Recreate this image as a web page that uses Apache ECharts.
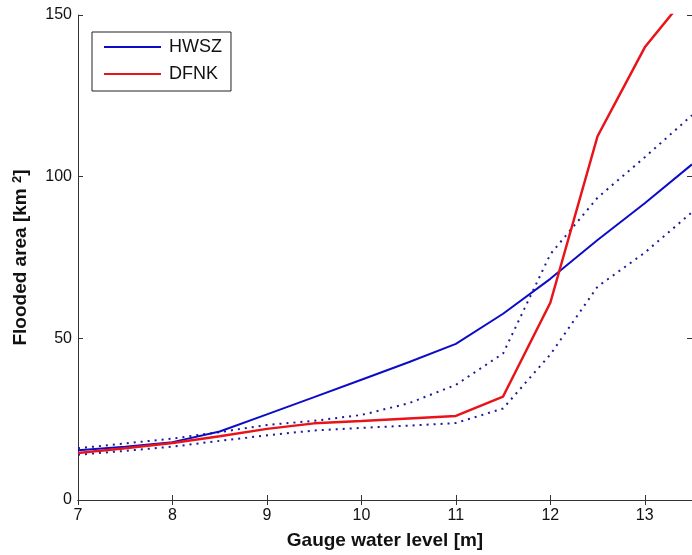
<!DOCTYPE html>
<html>
<head>
<meta charset="utf-8">
<script src="https://cdn.jsdelivr.net/npm/echarts@6/dist/echarts.min.js"></script>
<style>html,body{margin:0;padding:0;background:#fff}#c{width:692px;height:555px}</style>
</head>
<body>
<div id="c"></div>
<script>
const xLevels = [7, 7.5, 8, 8.5, 9, 9.5, 10, 10.5, 11, 11.5, 12, 12.5, 13, 13.5];
const hwsz      = [15.4, 16.5, 17.9, 21.2, 26.5, 31.8, 37.2, 42.6, 48.3, 57.6, 68.4, 80.4, 91.8, 103.8];
const hwszUpper = [16, 17.5, 19, 21, 23.2, 24.5, 26.3, 29.9, 35.6, 45.3, 76, 93.5, 106, 119];
const hwszLower = [14, 15.2, 16.5, 18.3, 20, 21.5, 22.3, 23, 23.8, 28.3, 45, 66, 76.5, 89];
const dfnk      = [14.5, 16, 17.6, 19.7, 22, 23.7, 24.4, 25.2, 26, 32, 61, 112.5, 140, 158];
const xTicks = [7, 8, 9, 10, 11, 12, 13];
const yTicks = [0, 50, 100, 150];

const pairs = (xs, ys) => xs.map((x, i) => [x, ys[i]]);
const FONT = 'Liberation Sans, Arial, sans-serif';

const chart = echarts.init(document.getElementById('c'), null, {renderer: 'canvas'});
const axisLine = {show: true, lineStyle: {color: '#333', width: 1}};
const tickIn = {show: true, inside: true, length: 5, lineStyle: {color: '#333'}};
chart.setOption({
  animation: false,
  backgroundColor: '#fff',
  grid: {left: 78, top: 15, right: -5, bottom: 53, containLabel: false},
  legend: {
    data: ['HWSZ', 'DFNK'],
    orient: 'vertical',
    left: 92, top: 32,
    padding: [6, 9, 8, 11],
    itemGap: 9,
    itemWidth: 57, itemHeight: 14,
    borderColor: '#222', borderWidth: 1,
    backgroundColor: '#fff',
    itemStyle: {opacity: 0},
    textStyle: {fontFamily: FONT, fontSize: 18, color: '#111', padding: [0, 0, 0, 3]}
  },
  xAxis: [{
    type: 'value', min: 7, max: 13.5, interval: 1,
    axisLine: axisLine, axisTick: tickIn, splitLine: {show: false},
    axisLabel: {
      fontFamily: FONT, fontSize: 16, color: '#111', margin: 8,
      showMaxLabel: false,
      formatter: v => xTicks.includes(v) ? String(v) : ''
    },
    name: 'Gauge water level [m]', nameLocation: 'middle', nameGap: 31,
    nameTextStyle: {fontFamily: FONT, fontSize: 19, fontWeight: 'bold', color: '#111'}
  }, {
    type: 'value', min: 7, max: 13.5, interval: 1, position: 'top',
    axisLine: axisLine, axisTick: tickIn, axisLabel: {show: false}, splitLine: {show: false}
  }],
  yAxis: [{
    type: 'value', min: 0, max: 150, interval: 50,
    axisLine: axisLine, axisTick: tickIn, splitLine: {show: false},
    axisLabel: {fontFamily: FONT, fontSize: 16, color: '#111', margin: 6,
      formatter: v => yTicks.includes(v) ? String(v) : ''},
    name: '{a|Flooded area [km }{s|2}{a|]}', nameLocation: 'middle', nameGap: 47,
    nameTextStyle: {
      fontFamily: FONT, fontSize: 19, fontWeight: 'bold', color: '#111',
      rich: {
        a: {fontFamily: FONT, fontSize: 19, fontWeight: 'bold', color: '#111'},
        s: {fontFamily: FONT, fontSize: 13, fontWeight: 'bold', color: '#111', verticalAlign: 'top', padding: [0, 0, 7, 0]}
      }
    }
  }, {
    type: 'value', min: 0, max: 150, interval: 50, position: 'right',
    axisLine: axisLine, axisTick: tickIn, axisLabel: {show: false}, splitLine: {show: false}
  }],
  series: [
    {name: 'HWSZ upper', type: 'line', data: pairs(xLevels, hwszUpper), symbol: 'none', clip: true,
     lineStyle: {color: '#1a1a9a', width: 2, type: [2, 5]}, z: 2},
    {name: 'HWSZ lower', type: 'line', data: pairs(xLevels, hwszLower), symbol: 'none', clip: true,
     lineStyle: {color: '#1a1a9a', width: 2, type: [2, 5]}, z: 2},
    {name: 'HWSZ', type: 'line', data: pairs(xLevels, hwsz), symbol: 'none', clip: true,
     itemStyle: {color: '#0c0cc8'}, lineStyle: {color: '#0c0cc8', width: 2}, z: 3},
    {name: 'DFNK', type: 'line', data: pairs(xLevels, dfnk), symbol: 'none', clip: true,
     itemStyle: {color: '#e8141a'}, lineStyle: {color: '#e8141a', width: 2.5}, z: 4}
  ]
});
</script>
</body>
</html>
